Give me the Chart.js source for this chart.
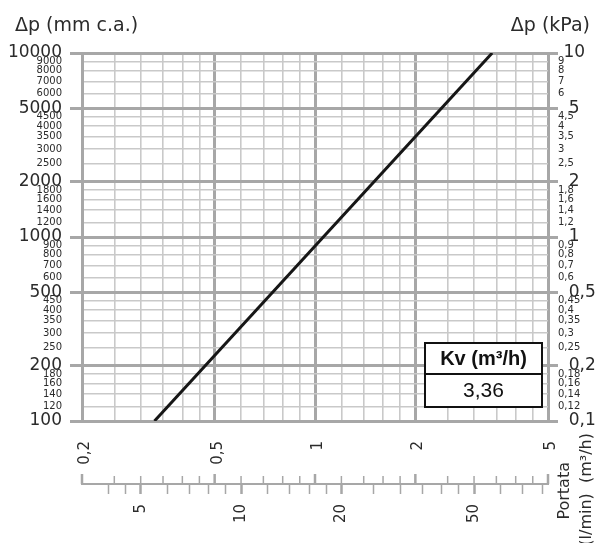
<!DOCTYPE html>
<html>
<head>
<meta charset="utf-8">
<script src="https://cdn.jsdelivr.net/npm/chart.js@4.4.1/dist/chart.umd.min.js"></script>
<style>
  html, body { margin: 0; padding: 0; background: #fff; }
  canvas { display: block; }
</style>
</head>
<body>
<canvas id="chart" width="599" height="543"></canvas>
<script>
// flow rate, m3/h (grid lines + labelled values)
var flowTicks = [0.2, 0.25, 0.3, 0.35, 0.4, 0.45, 0.5, 0.6, 0.7, 0.8, 0.9, 1, 1.2, 1.4, 1.6, 1.8, 2, 2.5, 3, 3.5, 4, 4.5, 5];
var flowMajor = [0.2, 0.5, 1, 2, 5];

// pressure drop, mm c.a.
var dpTicks = [100, 120, 140, 160, 180, 200, 250, 300, 350, 400, 450, 500, 600, 700, 800, 900,
  1000, 1200, 1400, 1600, 1800, 2000, 2500, 3000, 3500, 4000, 4500, 5000, 6000, 7000, 8000, 9000, 10000];
var dpMajor = [100, 200, 500, 1000, 2000, 5000, 10000];

// pressure drop, kPa (right side)
var kpaTicks = [0.1, 0.12, 0.14, 0.16, 0.18, 0.2, 0.25, 0.3, 0.35, 0.4, 0.45, 0.5, 0.6, 0.7, 0.8, 0.9,
  1, 1.2, 1.4, 1.6, 1.8, 2, 2.5, 3, 3.5, 4, 4.5, 5, 6, 7, 8, 9, 10];
var kpaMajor = [0.1, 0.2, 0.5, 1, 2, 5, 10];

// flow rate, l/min (second scale)
var lminTicks = [4, 4.5, 5, 6, 7, 8, 9, 10, 12, 14, 16, 18, 20, 25, 30, 35, 40, 45, 50, 60, 70, 80];
var lminMajor = [5, 10, 20, 50];

// characteristic line
var lineFlow = [0.33, 3.4];
var lineDp = [100, 10000];

var kvTitle = 'Kv (m\u00b3/h)';
var kvValue = '3,36';

var FONT = '"DejaVu Sans", sans-serif';
var MAJOR_COL = '#a7a7a7';
var MINOR_COL = '#c9c9c9';
var TEXT_COL = '#2b2b2b';
var CLEAR = 'rgba(0,0,0,0)';

function isIn(list, v) {
  for (var i = 0; i < list.length; i++) {
    if (Math.abs(list[i] - v) < 1e-9) return true;
  }
  return false;
}

function comma(v) {
  return String(v).replace('.', ',');
}

function setTicks(list) {
  return function (scale) {
    scale.ticks = list.map(function (v) { return { value: v }; });
  };
}

function tickVal(ctx) {
  return ctx.tick ? ctx.tick.value : NaN;
}

var points = [];
for (var i = 0; i < lineFlow.length; i++) points.push({ x: lineFlow[i], y: lineDp[i] });

var decor = {
  id: 'decor',
  afterDraw: function (chart) {
    var c = chart.ctx;
    var a = chart.chartArea;
    var sx = chart.scales.x;
    var sx2 = chart.scales.x2;
    c.save();

    // axis titles
    c.fillStyle = TEXT_COL;
    c.font = '19px ' + FONT;
    c.textBaseline = 'middle';
    c.textAlign = 'left';
    c.fillText('\u0394p (mm c.a.)', 15, 26);
    c.textAlign = 'right';
    c.fillText('\u0394p (kPa)', 590, 26);

    // m3/h marks above the l/min scale line
    c.strokeStyle = MAJOR_COL;
    for (var i = 0; i < flowTicks.length; i++) {
      var big = isIn(flowMajor, flowTicks[i]);
      var px = sx.getPixelForValue(flowTicks[i]);
      c.lineWidth = big ? 2.5 : 1.5;
      c.beginPath();
      c.moveTo(px, sx2.top - (big ? 10 : 8));
      c.lineTo(px, sx2.top);
      c.stroke();
    }

    // rotated axis name
    c.fillStyle = TEXT_COL;
    c.font = '16px ' + FONT;
    c.textAlign = 'right';
    c.textBaseline = 'middle';
    c.save();
    c.translate(565, 462);
    c.rotate(-Math.PI / 2);
    c.fillText('Portata', 0, 0);
    c.restore();
    c.save();
    c.translate(587, 433);
    c.rotate(-Math.PI / 2);
    c.fillText('(l/min)  (m\u00b3/h)', 0, 0);
    c.restore();

    // Kv box
    var bw = 117, bh = 64;
    var bx = a.right - 6 - bw;
    var by = a.bottom - 14 - bh;
    c.fillStyle = '#fff';
    c.fillRect(bx, by, bw, bh);
    c.strokeStyle = '#111';
    c.lineWidth = 2;
    c.strokeRect(bx, by, bw, bh);
    c.beginPath();
    c.moveTo(bx, by + 31);
    c.lineTo(bx + bw, by + 31);
    c.stroke();
    c.fillStyle = '#111';
    c.textAlign = 'center';
    c.textBaseline = 'middle';
    c.font = 'bold 20px "Liberation Sans", Arial, sans-serif';
    c.fillText(kvTitle, bx + bw / 2, by + 16);
    c.font = '21px "Liberation Sans", Arial, sans-serif';
    c.fillText(kvValue, bx + bw / 2, by + 48);

    c.restore();
  }
};

new Chart(document.getElementById('chart'), {
  type: 'scatter',
  data: {
    datasets: [{
      data: points,
      showLine: true,
      borderColor: '#161616',
      borderWidth: 3,
      pointRadius: 0,
      pointHoverRadius: 0,
      xAxisID: 'x',
      yAxisID: 'y'
    }]
  },
  options: {
    responsive: false,
    animation: false,
    events: [],
    layout: { padding: { top: 53, left: 0, right: 0, bottom: 0 } },
    plugins: { legend: { display: false }, tooltip: { enabled: false } },
    scales: {
      x: {
        type: 'logarithmic',
        position: 'bottom',
        min: 0.2,
        max: 5,
        afterBuildTicks: setTicks(flowTicks),
        afterFit: function (s) { s.height = 63; },
        border: { display: false },
        grid: {
          drawTicks: false,
          color: function (ctx) { return isIn(flowMajor, tickVal(ctx)) ? MAJOR_COL : MINOR_COL; },
          lineWidth: function (ctx) { return isIn(flowMajor, tickVal(ctx)) ? 3 : 1.6; }
        },
        ticks: {
          autoSkip: false,
          minRotation: 90,
          maxRotation: 90,
          padding: 20,
          labelOffset: 3,
          color: TEXT_COL,
          font: { family: FONT, size: 15 },
          callback: function (v) { return isIn(flowMajor, v) ? comma(v) : ''; }
        }
      },
      x2: {
        type: 'logarithmic',
        position: 'bottom',
        min: 0.2 * 1000 / 60,
        max: 5 * 1000 / 60,
        afterBuildTicks: setTicks(lminTicks),
        afterFit: function (s) { s.height = 59; },
        border: { display: true, color: MAJOR_COL, width: 2 },
        grid: {
          drawOnChartArea: false,
          tickLength: 10,
          tickColor: MAJOR_COL,
          tickWidth: function (ctx) { return isIn(lminMajor, tickVal(ctx)) ? 2.5 : 1.5; }
        },
        ticks: {
          autoSkip: false,
          minRotation: 90,
          maxRotation: 90,
          padding: 10,
          color: TEXT_COL,
          font: { family: FONT, size: 15 },
          callback: function (v) { return isIn(lminMajor, v) ? comma(v) : ''; }
        }
      },
      y: {
        type: 'logarithmic',
        position: 'left',
        min: 100,
        max: 10000,
        afterBuildTicks: setTicks(dpTicks),
        afterFit: function (s) { s.width = 82; },
        border: { display: true, color: MAJOR_COL, width: 3 },
        grid: {
          tickLength: 12,
          color: function (ctx) { return isIn(dpMajor, tickVal(ctx)) ? MAJOR_COL : MINOR_COL; },
          lineWidth: function (ctx) { return isIn(dpMajor, tickVal(ctx)) ? 3 : 1.6; },
          tickColor: function (ctx) { return isIn(dpMajor, tickVal(ctx)) ? MAJOR_COL : CLEAR; },
          tickWidth: 3
        },
        ticks: {
          autoSkip: false,
          padding: 8,
          color: TEXT_COL,
          font: function (ctx) {
            return { family: FONT, size: isIn(dpMajor, tickVal(ctx)) ? 17 : 10 };
          },
          callback: function (v) { return String(v); }
        }
      },
      y2: {
        type: 'logarithmic',
        position: 'right',
        min: 0.1,
        max: 10,
        afterBuildTicks: setTicks(kpaTicks),
        afterFit: function (s) { s.width = 51; },
        border: { display: false },
        grid: {
          drawOnChartArea: false,
          tickLength: 10,
          tickColor: function (ctx) { return isIn(kpaMajor, tickVal(ctx)) ? MAJOR_COL : CLEAR; },
          tickWidth: 3
        },
        ticks: {
          autoSkip: false,
          padding: 0,
          color: TEXT_COL,
          font: function (ctx) {
            return { family: FONT, size: isIn(kpaMajor, tickVal(ctx)) ? 17 : 10 };
          },
          callback: function (v) {
            if (!isIn(kpaMajor, v)) return comma(v);
            return (v >= 10 ? ' ' : '  ') + comma(v);
          }
        }
      }
    }
  },
  plugins: [decor]
});
</script>
</body>
</html>
